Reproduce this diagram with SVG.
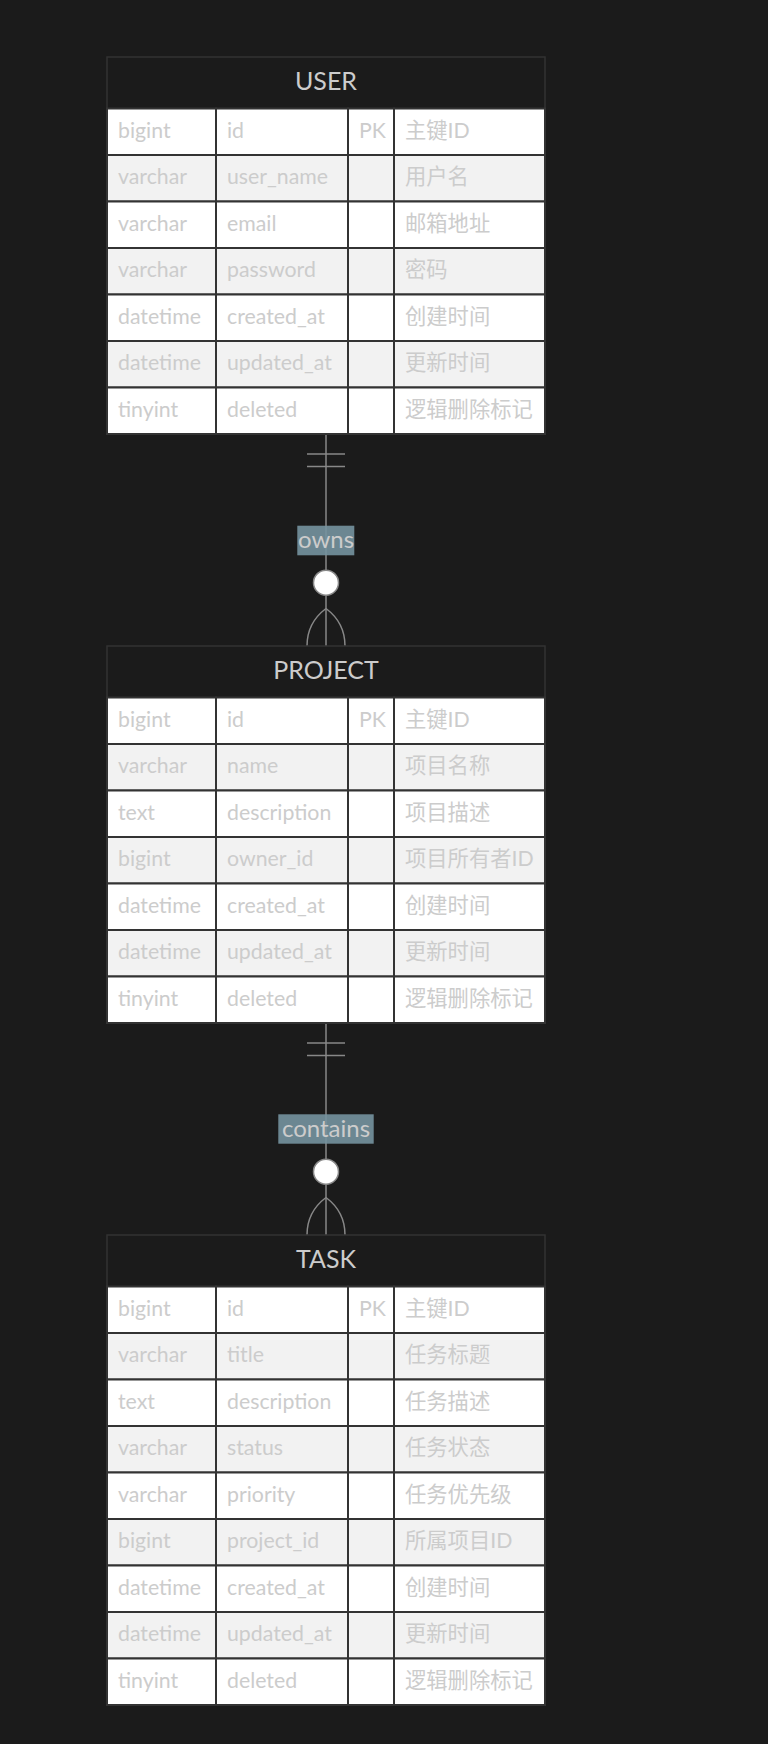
<svg xmlns="http://www.w3.org/2000/svg" width="768" height="1744" viewBox="0 0 768 1744">
<style>
.bg{fill:#1b1b1b}
.ent{fill:#1b1b1b;stroke:#333;stroke-width:1.5}
.o{fill:#ffffff;stroke:#333;stroke-width:2}
.e{fill:#f2f2f2;stroke:#333;stroke-width:2}
.t{font-family:Lato,"Noto Sans CJK SC",sans-serif;font-size:21.3px;fill:#cccccc}
.h{font-family:Lato,"Noto Sans CJK SC",sans-serif;font-size:25px;fill:#cccccc;text-anchor:middle}
.ln{stroke:#888;stroke-width:1.5;fill:none}
.lbl{fill:#7593a0;opacity:0.9}
.lt{font-family:Lato,"Noto Sans CJK SC",sans-serif;font-size:24px;fill:#cccccc;text-anchor:middle}
.cir{fill:#fff;stroke:#888;stroke-width:1.5}
</style>
<defs>
<g id="ro"><rect class="o" x="107" y="0" width="109" height="46.5"/><rect class="o" x="216" y="0" width="132" height="46.5"/><rect class="o" x="348" y="0" width="46" height="46.5"/><rect class="o" x="394" y="0" width="151" height="46.5"/></g>
<g id="re"><rect class="e" x="107" y="0" width="109" height="46.5"/><rect class="e" x="216" y="0" width="132" height="46.5"/><rect class="e" x="348" y="0" width="46" height="46.5"/><rect class="e" x="394" y="0" width="151" height="46.5"/></g>
</defs>
<rect class="bg" x="0" y="0" width="768" height="1744"/>

<g id="connectors">
<g id="user-project">
<line class="ln" x1="326" y1="434" x2="326" y2="646"/>
<line class="ln" x1="307" y1="454" x2="345" y2="454"/>
<line class="ln" x1="307" y1="466.5" x2="345" y2="466.5"/>
<path class="ln" d="M326,608.5 C316,616 307,627 307,646"/>
<path class="ln" d="M326,608.5 C336,616 345,627 345,646"/>
<circle class="cir" cx="326" cy="582.7" r="12.5"/>
<rect class="lbl" x="297.3" y="525.7" width="57" height="29.6"/>
<text class="lt" x="326" y="548">owns</text>
</g>
<g id="project-task">
<line class="ln" x1="326" y1="1023" x2="326" y2="1235"/>
<line class="ln" x1="307" y1="1043" x2="345" y2="1043"/>
<line class="ln" x1="307" y1="1055.5" x2="345" y2="1055.5"/>
<path class="ln" d="M326,1197.5 C316,1205 307,1216 307,1235"/>
<path class="ln" d="M326,1197.5 C336,1205 345,1216 345,1235"/>
<circle class="cir" cx="326" cy="1171.7" r="12.5"/>
<rect class="lbl" x="278.3" y="1114.3" width="95.4" height="29.4"/>
<text class="lt" x="326" y="1137">contains</text>
</g>
</g>

<g id="USER">
<rect class="ent" x="107" y="57" width="438" height="377"/>
<text class="h" x="326" y="90">USER</text>
<g transform="translate(0,108.5)"><use href="#ro"/><text class="t" x="118" y="29">bigint</text><text class="t" x="227" y="29">id</text><text class="t" x="359" y="29">PK</text><text class="t" x="405" y="29">主键ID</text></g>
<g transform="translate(0,155)"><use href="#re"/><text class="t" x="118" y="29">varchar</text><text class="t" x="227" y="29">user_name</text><text class="t" x="405" y="29">用户名</text></g>
<g transform="translate(0,201.5)"><use href="#ro"/><text class="t" x="118" y="29">varchar</text><text class="t" x="227" y="29">email</text><text class="t" x="405" y="29">邮箱地址</text></g>
<g transform="translate(0,248)"><use href="#re"/><text class="t" x="118" y="29">varchar</text><text class="t" x="227" y="29">password</text><text class="t" x="405" y="29">密码</text></g>
<g transform="translate(0,294.5)"><use href="#ro"/><text class="t" x="118" y="29">datetime</text><text class="t" x="227" y="29">created_at</text><text class="t" x="405" y="29">创建时间</text></g>
<g transform="translate(0,341)"><use href="#re"/><text class="t" x="118" y="29">datetime</text><text class="t" x="227" y="29">updated_at</text><text class="t" x="405" y="29">更新时间</text></g>
<g transform="translate(0,387.5)"><use href="#ro"/><text class="t" x="118" y="29">tinyint</text><text class="t" x="227" y="29">deleted</text><text class="t" x="405" y="29">逻辑删除标记</text></g>
</g>

<g id="PROJECT">
<rect class="ent" x="107" y="646" width="438" height="377"/>
<text class="h" x="326" y="679">PROJECT</text>
<g transform="translate(0,697.5)"><use href="#ro"/><text class="t" x="118" y="29">bigint</text><text class="t" x="227" y="29">id</text><text class="t" x="359" y="29">PK</text><text class="t" x="405" y="29">主键ID</text></g>
<g transform="translate(0,744)"><use href="#re"/><text class="t" x="118" y="29">varchar</text><text class="t" x="227" y="29">name</text><text class="t" x="405" y="29">项目名称</text></g>
<g transform="translate(0,790.5)"><use href="#ro"/><text class="t" x="118" y="29">text</text><text class="t" x="227" y="29">description</text><text class="t" x="405" y="29">项目描述</text></g>
<g transform="translate(0,837)"><use href="#re"/><text class="t" x="118" y="29">bigint</text><text class="t" x="227" y="29">owner_id</text><text class="t" x="405" y="29">项目所有者ID</text></g>
<g transform="translate(0,883.5)"><use href="#ro"/><text class="t" x="118" y="29">datetime</text><text class="t" x="227" y="29">created_at</text><text class="t" x="405" y="29">创建时间</text></g>
<g transform="translate(0,930)"><use href="#re"/><text class="t" x="118" y="29">datetime</text><text class="t" x="227" y="29">updated_at</text><text class="t" x="405" y="29">更新时间</text></g>
<g transform="translate(0,976.5)"><use href="#ro"/><text class="t" x="118" y="29">tinyint</text><text class="t" x="227" y="29">deleted</text><text class="t" x="405" y="29">逻辑删除标记</text></g>
</g>

<g id="TASK">
<rect class="ent" x="107" y="1235" width="438" height="470"/>
<text class="h" x="326" y="1268">TASK</text>
<g transform="translate(0,1286.5)"><use href="#ro"/><text class="t" x="118" y="29">bigint</text><text class="t" x="227" y="29">id</text><text class="t" x="359" y="29">PK</text><text class="t" x="405" y="29">主键ID</text></g>
<g transform="translate(0,1333)"><use href="#re"/><text class="t" x="118" y="29">varchar</text><text class="t" x="227" y="29">title</text><text class="t" x="405" y="29">任务标题</text></g>
<g transform="translate(0,1379.5)"><use href="#ro"/><text class="t" x="118" y="29">text</text><text class="t" x="227" y="29">description</text><text class="t" x="405" y="29">任务描述</text></g>
<g transform="translate(0,1426)"><use href="#re"/><text class="t" x="118" y="29">varchar</text><text class="t" x="227" y="29">status</text><text class="t" x="405" y="29">任务状态</text></g>
<g transform="translate(0,1472.5)"><use href="#ro"/><text class="t" x="118" y="29">varchar</text><text class="t" x="227" y="29">priority</text><text class="t" x="405" y="29">任务优先级</text></g>
<g transform="translate(0,1519)"><use href="#re"/><text class="t" x="118" y="29">bigint</text><text class="t" x="227" y="29">project_id</text><text class="t" x="405" y="29">所属项目ID</text></g>
<g transform="translate(0,1565.5)"><use href="#ro"/><text class="t" x="118" y="29">datetime</text><text class="t" x="227" y="29">created_at</text><text class="t" x="405" y="29">创建时间</text></g>
<g transform="translate(0,1612)"><use href="#re"/><text class="t" x="118" y="29">datetime</text><text class="t" x="227" y="29">updated_at</text><text class="t" x="405" y="29">更新时间</text></g>
<g transform="translate(0,1658.5)"><use href="#ro"/><text class="t" x="118" y="29">tinyint</text><text class="t" x="227" y="29">deleted</text><text class="t" x="405" y="29">逻辑删除标记</text></g>
</g>
</svg>
